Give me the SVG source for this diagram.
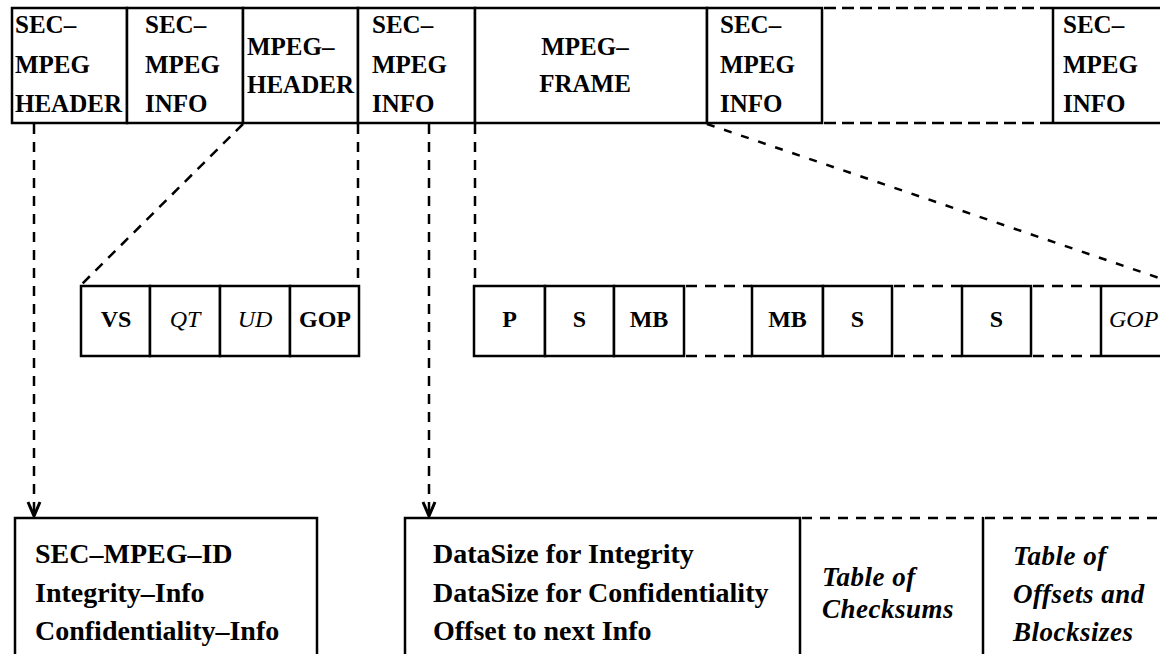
<svg xmlns="http://www.w3.org/2000/svg" width="1160" height="654" viewBox="0 0 1160 654">
<defs>
<style>
.box{fill:#fff;stroke:#000;stroke-width:2.5}
.ln{stroke:#000;stroke-width:2.5;fill:none}
.dh{stroke:#000;stroke-width:2.5;fill:none;stroke-dasharray:12 6}
.dm{stroke:#000;stroke-width:2.5;fill:none;stroke-dasharray:11 8}
.db{stroke:#000;stroke-width:2.5;fill:none;stroke-dasharray:10 8}
.conn{stroke:#000;stroke-width:2.5;fill:none;stroke-dasharray:10 8}
.conn2{stroke:#000;stroke-width:2.5;fill:none;stroke-dasharray:8 10}
text{font-family:'Liberation Serif','Times New Roman',Times,'DejaVu Serif',serif;fill:#000}
.t{font-weight:bold;font-size:25px}
.m{font-weight:bold;font-size:24px;text-anchor:middle}
.mi{font-style:italic;font-size:24px;text-anchor:middle}
.ms{font-style:italic;font-size:24px}
.b{font-weight:bold;font-size:28px}
.bi{font-weight:bold;font-style:italic;font-size:27px;letter-spacing:0.5px}
.c{text-anchor:middle}
</style>
<marker id="arr" viewBox="-16 -8 18 16" refX="0" refY="0" markerWidth="18" markerHeight="16" markerUnits="userSpaceOnUse" orient="auto">
<path d="M-14,-6 L0,0 L-14,6" fill="none" stroke="#000" stroke-width="3" stroke-dasharray="none"/>
</marker>
</defs>
<rect width="1160" height="654" fill="#fff"/>

<!-- Top row -->
<g id="sec-mpeg-header">
<rect class="box" x="12" y="8" width="115" height="115"/>
<text class="t" x="15" y="33">SEC–</text>
<text class="t" x="15" y="73">MPEG</text>
<text class="t" x="15" y="112">HEADER</text>
</g>
<g id="sec-mpeg-info-1">
<rect class="box" x="127" y="8" width="116" height="115"/>
<text class="t" x="145" y="33">SEC–</text>
<text class="t" x="145" y="73">MPEG</text>
<text class="t" x="145" y="112">INFO</text>
</g>
<g id="mpeg-header">
<rect class="box" x="243" y="8" width="115" height="115"/>
<text class="t" x="247" y="55">MPEG–</text>
<text class="t" x="247" y="93">HEADER</text>
</g>
<g id="sec-mpeg-info-2">
<rect class="box" x="358" y="8" width="117" height="115"/>
<text class="t" x="372" y="33">SEC–</text>
<text class="t" x="372" y="73">MPEG</text>
<text class="t" x="372" y="112">INFO</text>
</g>
<g id="mpeg-frame">
<rect class="box" x="475" y="8" width="232" height="115"/>
<text class="t c" x="585" y="55">MPEG–</text>
<text class="t c" x="585" y="92">FRAME</text>
</g>
<g id="sec-mpeg-info-3">
<rect class="box" x="707" y="8" width="115" height="115"/>
<text class="t" x="720" y="33">SEC–</text>
<text class="t" x="720" y="73">MPEG</text>
<text class="t" x="720" y="112">INFO</text>
</g>
<g id="top-gap">
<line class="dh" x1="824" y1="8" x2="1052" y2="8"/>
<line class="dh" x1="824" y1="123" x2="1052" y2="123"/>
</g>
<g id="sec-mpeg-info-4">
<rect class="box" x="1053" y="8" width="130" height="115"/>
<text class="t" x="1063" y="33">SEC–</text>
<text class="t" x="1063" y="73">MPEG</text>
<text class="t" x="1063" y="112">INFO</text>
</g>

<!-- Middle row left -->
<g id="vs"><rect class="box" x="81" y="286" width="69" height="70"/><text class="m" x="116" y="327">VS</text></g>
<g id="qt"><rect class="box" x="150" y="286" width="70" height="70"/><text class="mi" x="185" y="327">QT</text></g>
<g id="ud"><rect class="box" x="220" y="286" width="70" height="70"/><text class="mi" x="255" y="327">UD</text></g>
<g id="gop-1"><rect class="box" x="290" y="286" width="69" height="70"/><text class="m" x="325" y="327">GOP</text></g>

<!-- Middle row right -->
<g id="p"><rect class="box" x="474" y="286" width="71" height="70"/><text class="m" x="509.5" y="327">P</text></g>
<g id="s-1"><rect class="box" x="545" y="286" width="69" height="70"/><text class="m" x="579.5" y="327">S</text></g>
<g id="mb-1"><rect class="box" x="614" y="286" width="70" height="70"/><text class="m" x="649" y="327">MB</text></g>
<g id="mid-gap-1">
<line class="dm" x1="686" y1="286" x2="752" y2="286"/>
<line class="dm" x1="686" y1="356" x2="752" y2="356"/>
</g>
<g id="mb-2"><rect class="box" x="752" y="286" width="71" height="70"/><text class="m" x="787.5" y="327">MB</text></g>
<g id="s-2"><rect class="box" x="823" y="286" width="69" height="70"/><text class="m" x="857.5" y="327">S</text></g>
<g id="mid-gap-2">
<line class="dm" x1="894" y1="286" x2="962" y2="286"/>
<line class="dm" x1="894" y1="356" x2="962" y2="356"/>
</g>
<g id="s-3"><rect class="box" x="962" y="286" width="69" height="70"/><text class="m" x="996.5" y="327">S</text></g>
<g id="mid-gap-3">
<line class="dm" x1="1033" y1="286" x2="1100" y2="286"/>
<line class="dm" x1="1033" y1="356" x2="1100" y2="356"/>
</g>
<g id="gop-2"><rect class="box" x="1101" y="286" width="80" height="70"/><text class="ms" x="1109" y="327">GOP</text></g>

<!-- Bottom row -->
<g id="header-contents">
<rect class="box" x="15" y="518" width="302" height="160"/>
<text class="b" x="35" y="563">SEC–MPEG–ID</text>
<text class="b" x="35" y="602">Integrity–Info</text>
<text class="b" x="35" y="640">Confidentiality–Info</text>
</g>
<g id="info-contents">
<rect class="box" x="405" y="518" width="395" height="160"/>
<text class="b" x="433" y="563">DataSize for Integrity</text>
<text class="b" x="433" y="602">DataSize for Confidentiality</text>
<text class="b" x="433" y="640">Offset to next Info</text>
</g>
<g id="checksums">
<line class="db" x1="802" y1="518" x2="983" y2="518"/>
<line class="ln" x1="983" y1="517" x2="983" y2="660"/>
<text class="bi" x="822" y="586">Table of</text>
<text class="bi" x="822" y="618">Checksums</text>
</g>
<g id="offsets">
<line class="db" x1="985" y1="518" x2="1162" y2="518"/>
<text class="bi" x="1013" y="565">Table of</text>
<text class="bi" x="1013" y="603">Offsets and</text>
<text class="bi" x="1013" y="641">Blocksizes</text>
</g>

<!-- Connectors -->
<g id="connectors">
<line class="conn" x1="34" y1="124" x2="34" y2="516" marker-end="url(#arr)"/>
<line class="conn" x1="243" y1="124" x2="81" y2="285"/>
<line class="conn" x1="358" y1="124" x2="358" y2="286"/>
<line class="conn" x1="429" y1="124" x2="429" y2="516" marker-end="url(#arr)"/>
<line class="conn" x1="475" y1="124" x2="475" y2="286"/>
<line class="conn2" x1="707" y1="124" x2="1168" y2="281"/>
</g>
</svg>
